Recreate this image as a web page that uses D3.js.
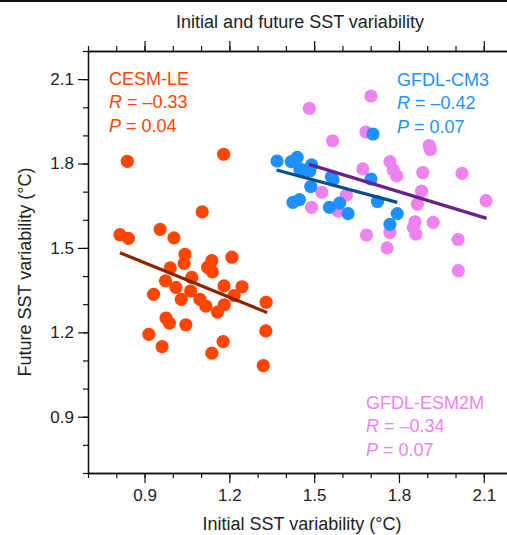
<!DOCTYPE html>
<html lang="en">
<head>
<meta charset="UTF-8">
<title>Initial and future SST variability</title>
<style>
  body { margin: 0; background: #fff; }
  svg { font-family: "Liberation Sans", Arial, Helvetica, sans-serif; }
</style>
</head>
<body>
<script src="https://d3js.org/d3.v7.min.js"></script>
<div id="chart"></div>
<script>
// ---- data ----
const cesmX = [0.839, 1.180, 1.104, 0.813, 0.843, 0.955, 1.004, 1.043, 1.040, 0.991,
               0.974, 1.011, 1.067, 1.063, 1.030, 0.932, 1.138, 1.123, 1.140, 1.209,
               1.181, 1.245, 1.217, 1.182, 1.096, 1.117, 1.158, 1.330, 0.976, 0.988,
               1.046, 0.915, 0.962, 1.138, 1.178, 1.329, 1.320];
const cesmY = [1.808, 1.833, 1.628, 1.547, 1.534, 1.566, 1.536, 1.477, 1.445, 1.429,
               1.383, 1.360, 1.395, 1.347, 1.317, 1.335, 1.455, 1.431, 1.415, 1.467,
               1.365, 1.362, 1.331, 1.298, 1.317, 1.293, 1.272, 1.307, 1.251, 1.233,
               1.227, 1.193, 1.149, 1.126, 1.167, 1.205, 1.082];

const cm3X = [1.369, 1.419, 1.440, 1.449, 1.468, 1.491, 1.485, 1.488, 1.425, 1.448,
              1.561, 1.567, 1.554, 1.590, 1.620, 1.708, 1.701, 1.724, 1.794, 1.768];
const cm3Y = [1.809, 1.807, 1.822, 1.781, 1.777, 1.795, 1.774, 1.718, 1.662, 1.672,
              1.753, 1.742, 1.644, 1.659, 1.622, 1.905, 1.745, 1.665, 1.622, 1.584];

const esmX = [1.483, 1.701, 1.565, 1.683, 1.672, 1.527, 1.614, 1.491, 1.585, 1.768,
              1.780, 1.792, 1.907, 1.911, 1.884, 2.023, 1.880, 1.865, 2.108, 1.857,
              1.851, 1.860, 1.921, 1.768, 1.685, 2.009, 1.758, 2.010];
const esmY = [1.996, 2.040, 1.881, 1.912, 1.781, 1.698, 1.688, 1.644, 1.631, 1.807,
              1.777, 1.756, 1.864, 1.850, 1.768, 1.765, 1.702, 1.656, 1.668, 1.593,
              1.573, 1.549, 1.591, 1.555, 1.546, 1.530, 1.500, 1.419];

// regression line end points
const cesmFitX = [0.813, 1.334], cesmFitY = [1.483, 1.270];
const cm3FitX = [1.367, 1.794],  cm3FitY = [1.777, 1.662];
const esmFitX = [1.482, 2.110],  esmFitY = [1.797, 1.605];

const majorTicks = [0.9, 1.2, 1.5, 1.8, 2.1];
const minorTicks = d3.range(7, 23).map(d => d / 10);

const labels = [
  {name: "CESM-LE",    r: "\u20130.33", p: "0.04", color: "#ff4500", x: 109, y: 85},
  {name: "GFDL-CM3",   r: "\u20130.42", p: "0.07", color: "#1e90ff", x: 397, y: 86},
  {name: "GFDL-ESM2M", r: "\u20130.34", p: "0.07", color: "#ee82ee", x: 366, y: 409}
];

// ---- layout ----
const W = 507, H = 535;
const plotLeft = 88, plotTop = 51, plotBottom = 473;

const svg = d3.select("#chart").append("svg")
  .attr("width", W).attr("height", H);

const x = d3.scaleLinear().domain([0.7, 2.2]).range([plotLeft, plotLeft + 1.5 * 282.7]);
const y = d3.scaleLinear().domain([0.7, 2.2]).range([plotBottom, plotTop]);

// thin black rule at the very top
svg.append("rect").attr("x", 0).attr("y", 0).attr("width", W).attr("height", 2).attr("fill", "#111");

svg.append("text")
  .attr("x", 300).attr("y", 28)
  .attr("text-anchor", "middle")
  .style("font-size", "18px").style("fill", "#222")
  .text("Initial and future SST variability");

// axes: minor ticks first, then major ticks with labels
function styleAxis(g) {
  g.select(".domain").attr("stroke", "#111").attr("stroke-width", 1.3);
  g.selectAll(".tick line").attr("stroke", "#111").attr("stroke-width", 1.2);
  g.selectAll("text").style("font-size", "17px").style("fill", "#222").style("font-family", "inherit");
}

svg.append("g").attr("transform", `translate(0,${plotBottom})`)
  .call(d3.axisBottom(x).tickValues(minorTicks).tickSize(5).tickSizeOuter(0).tickFormat(""))
  .call(styleAxis);
svg.append("g").attr("transform", `translate(0,${plotBottom})`)
  .call(d3.axisBottom(x).tickValues(majorTicks).tickSize(10).tickSizeOuter(0).tickPadding(6).tickFormat(d3.format(".1f")))
  .call(styleAxis);

svg.append("g").attr("transform", `translate(0,${plotTop})`)
  .call(d3.axisTop(x).tickValues(minorTicks).tickSize(5).tickSizeOuter(0).tickFormat(""))
  .call(styleAxis);
svg.append("g").attr("transform", `translate(0,${plotTop})`)
  .call(d3.axisTop(x).tickValues(majorTicks).tickSize(10).tickSizeOuter(0).tickFormat(""))
  .call(styleAxis);

svg.append("g").attr("transform", `translate(${plotLeft},0)`)
  .call(d3.axisLeft(y).tickValues(minorTicks).tickSize(5).tickSizeOuter(0).tickFormat(""))
  .call(styleAxis);
svg.append("g").attr("transform", `translate(${plotLeft},0)`)
  .call(d3.axisLeft(y).tickValues(majorTicks).tickSize(10).tickSizeOuter(0).tickPadding(4).tickFormat(d3.format(".1f")))
  .call(styleAxis);

// axis titles
svg.append("text")
  .attr("x", 302).attr("y", 530)
  .attr("text-anchor", "middle")
  .style("font-size", "18px").style("fill", "#222")
  .text("Initial SST variability (\u00b0C)");

svg.append("text")
  .attr("transform", "translate(31,272) rotate(-90)")
  .attr("text-anchor", "middle")
  .style("font-size", "18px").style("fill", "#222")
  .text("Future SST variability (\u00b0C)");

// points
function dots(xs, ys, color) {
  svg.append("g").selectAll("circle")
    .data(xs.map((d, i) => [d, ys[i]]))
    .join("circle")
      .attr("cx", d => x(d[0]))
      .attr("cy", d => y(d[1]))
      .attr("r", 6.6)
      .attr("fill", color);
}
dots(cesmX, cesmY, "#ff4500");
dots(esmX, esmY, "#ee82ee");
dots(cm3X, cm3Y, "#1e90ff");

// regression lines
function fit(xs, ys, color) {
  svg.append("line")
    .attr("x1", x(xs[0])).attr("y1", y(ys[0]))
    .attr("x2", x(xs[1])).attr("y2", y(ys[1]))
    .attr("stroke", color).attr("stroke-width", 3.2);
}
fit(cesmFitX, cesmFitY, "#8b2500");
fit(cm3FitX, cm3FitY, "#104e8b");
fit(esmFitX, esmFitY, "#68228b");

// annotations
labels.forEach(l => {
  const g = svg.append("g").style("font-size", "18px").style("fill", l.color);
  g.append("text").attr("x", l.x).attr("y", l.y).text(l.name);
  const r = g.append("text").attr("x", l.x).attr("y", l.y + 23.3);
  r.append("tspan").style("font-style", "italic").text("R");
  r.append("tspan").text(" = " + l.r);
  const p = g.append("text").attr("x", l.x).attr("y", l.y + 46.6);
  p.append("tspan").style("font-style", "italic").text("P");
  p.append("tspan").text(" = " + l.p);
});
</script>
</body>
</html>
